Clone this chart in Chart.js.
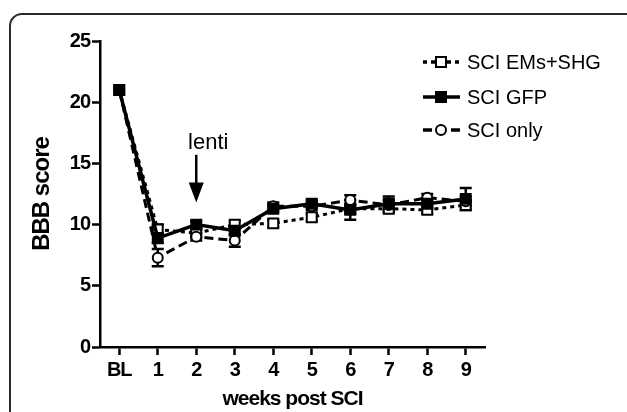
<!DOCTYPE html>
<html>
<head>
<meta charset="utf-8">
<script src="https://cdn.jsdelivr.net/npm/chart.js@4.4.1/dist/chart.umd.min.js"></script>
<style>
  html, body { margin: 0; padding: 0; background: #fff; }
  #wrap { position: relative; width: 627px; height: 412px; overflow: hidden; background: #fff; }
  #frame { position: absolute; left: 9px; top: 13px; width: 700px; height: 500px;
           border: 2px solid #2a2a2a; border-radius: 13px; box-sizing: border-box; }
  canvas { position: absolute; left: 0; top: 0; }
</style>
</head>
<body>
<div id="wrap">
  <div id="frame"></div>
  <canvas id="c" width="627" height="412"></canvas>
</div>
<script>
// ---- data ----
const categories = ['BL', '1', '2', '3', '4', '5', '6', '7', '8', '9'];
const seriesNames = ['SCI EMs+SHG', 'SCI GFP', 'SCI only'];
const emsShg  = [21, 9.6, 9.3, 10.0, 10.1, 10.6, 11.3, 11.3, 11.2, 11.6];
const gfp     = [21, 8.9, 10.0, 9.5, 11.3, 11.7, 11.2, 11.7, 11.7, 12.1];
const sciOnly = [21, 7.3, 9.0, 8.7, 11.5, 11.5, 12.0, 11.6, 12.2, 11.9];
const emsErr  = [0, 0.4, 0.3, 0.3, 0.3, 0.3, 0.4, 0.3, 0.3, 0.4];
const gfpErr  = [0, 0.4, 0.3, 0.3, 0.3, 0.3, 0.8, 0.6, 0.4, 0.9];
const onlyErr = [0, 0.7, 0.3, 0.5, 0.3, 0.3, 0.4, 0.4, 0.3, 0.4];
const yTicks = [0, 5, 10, 15, 20, 25];
const arrowLabel = 'lenti';
const arrowCategory = '2';
const arrowFrom = 15.7;
const arrowTo = 11.8;

const errors = [emsErr, gfpErr, onlyErr];

const tightText = {
  id: 'tightText',
  beforeDraw(chart) { chart.ctx.letterSpacing = '-1px'; }
};

const errorBars = {
  id: 'errorBars',
  beforeDatasetsDraw(chart) {
    const {ctx, scales: {x, y}} = chart;
    ctx.save();
    ctx.strokeStyle = '#000';
    ctx.lineWidth = 2.5;
    chart.data.datasets.forEach((ds, i) => {
      ds.data.forEach((v, j) => {
        const e = errors[i][j];
        if (!e) return;
        const px = x.getPixelForValue(j);
        const y1 = y.getPixelForValue(v - e), y2 = y.getPixelForValue(v + e);
        ctx.beginPath();
        ctx.moveTo(px, y1); ctx.lineTo(px, y2);
        ctx.moveTo(px - 6, y1); ctx.lineTo(px + 6, y1);
        ctx.moveTo(px - 6, y2); ctx.lineTo(px + 6, y2);
        ctx.stroke();
      });
    });
    ctx.restore();
  }
};

const extras = {
  id: 'extras',
  afterDraw(chart) {
    const {ctx, scales: {x, y}} = chart;
    ctx.save();
    ctx.letterSpacing = '0px';
    // arrow annotation
    const ax = x.getPixelForValue(categories.indexOf(arrowCategory));
    const yTop = y.getPixelForValue(arrowFrom), yTip = y.getPixelForValue(arrowTo);
    ctx.strokeStyle = '#000'; ctx.fillStyle = '#000'; ctx.lineWidth = 2.5;
    ctx.beginPath(); ctx.moveTo(ax, yTop); ctx.lineTo(ax, yTip - 14); ctx.stroke();
    ctx.beginPath(); ctx.moveTo(ax - 7.5, yTip - 20); ctx.lineTo(ax + 7.5, yTip - 20); ctx.lineTo(ax, yTip); ctx.closePath(); ctx.fill();
    ctx.font = '22px "Liberation Sans", Arial, sans-serif';
    ctx.textAlign = 'center'; ctx.textBaseline = 'alphabetic';
    ctx.fillText(arrowLabel, ax + 12, yTop - 6);

    // legend
    const rows = [62, 97, 130];
    chart.data.datasets.forEach((ds, i) => {
      const ry = rows[i];
      ctx.save();
      ctx.strokeStyle = '#000'; ctx.lineWidth = 3.5;
      ctx.setLineDash(ds.borderDash || []);
      ctx.beginPath(); ctx.moveTo(423, ry); ctx.lineTo(460, ry); ctx.stroke();
      ctx.setLineDash([]);
      ctx.lineWidth = 2;
      ctx.fillStyle = ds.pointBackgroundColor;
      ctx.beginPath();
      if (ds.pointStyle === 'circle') ctx.arc(441, ry, 5, 0, Math.PI * 2);
      else ctx.rect(436, ry - 5, 10, 10);
      ctx.fill(); ctx.stroke();
      ctx.restore();
      ctx.fillStyle = '#000';
      ctx.font = '20px "Liberation Sans", Arial, sans-serif';
      ctx.textAlign = 'left'; ctx.textBaseline = 'middle';
      ctx.fillText(ds.label, 467, ry + 1);
    });
    ctx.restore();
  }
};

new Chart(document.getElementById('c'), {
  type: 'line',
  data: {
    labels: categories,
    datasets: [
      { label: seriesNames[0], data: emsShg, order: 2,
        borderColor: '#000', borderWidth: 3, borderDash: [4, 4],
        pointStyle: 'rect', pointRadius: 7, pointBorderWidth: 2,
        pointBackgroundColor: '#fff', pointBorderColor: '#000', tension: 0 },
      { label: seriesNames[1], data: gfp, order: 0,
        borderColor: '#000', borderWidth: 3.5,
        pointStyle: 'rect', pointRadius: 7, pointBorderWidth: 2,
        pointBackgroundColor: '#000', pointBorderColor: '#000', tension: 0 },
      { label: seriesNames[2], data: sciOnly, order: 1,
        borderColor: '#000', borderWidth: 3, borderDash: [9, 5],
        pointStyle: 'circle', pointRadius: 5, pointBorderWidth: 2,
        pointBackgroundColor: '#fff', pointBorderColor: '#000', tension: 0 }
    ]
  },
  options: {
    responsive: false,
    animation: false,
    layout: { padding: { left: 0, right: 142, top: 41, bottom: 0 } },
    plugins: { legend: { display: false }, tooltip: { enabled: false } },
    scales: {
      x: {
        type: 'category', offset: true,
        border: { display: true, color: '#000', width: 2.5 },
        grid: { display: true, drawOnChartArea: false, drawTicks: true, tickLength: 8, tickWidth: 2.5, tickColor: '#000', offset: false },
        ticks: { color: '#000', padding: 3, maxRotation: 0, autoSkip: false,
                 font: { family: '"Liberation Sans", Arial, sans-serif', size: 20, weight: 'bold' } },
        title: { display: true, text: 'weeks post SCI', color: '#000', padding: { top: 0, bottom: 0 },
                 font: { family: '"Liberation Sans", Arial, sans-serif', size: 21, weight: 'bold' } },
        afterFit(s) { s.height = 65; }
      },
      y: {
        min: 0, max: 25,
        afterBuildTicks(s) { s.ticks = yTicks.map(v => ({ value: v })); },
        border: { display: true, color: '#000', width: 2.5 },
        grid: { display: true, drawOnChartArea: false, drawTicks: true, tickLength: 8, tickWidth: 2.5, tickColor: '#000' },
        ticks: { color: '#000', padding: 2,
                 font: { family: '"Liberation Sans", Arial, sans-serif', size: 20, weight: 'bold' } },
        title: { display: true, text: 'BBB score', color: '#000', padding: { top: 28, bottom: 0 },
                 font: { family: '"Liberation Sans", Arial, sans-serif', size: 24, weight: 'bold' } },
        afterFit(s) { s.width = 100; }
      }
    }
  },
  plugins: [tightText, errorBars, extras]
});
</script>
</body>
</html>
